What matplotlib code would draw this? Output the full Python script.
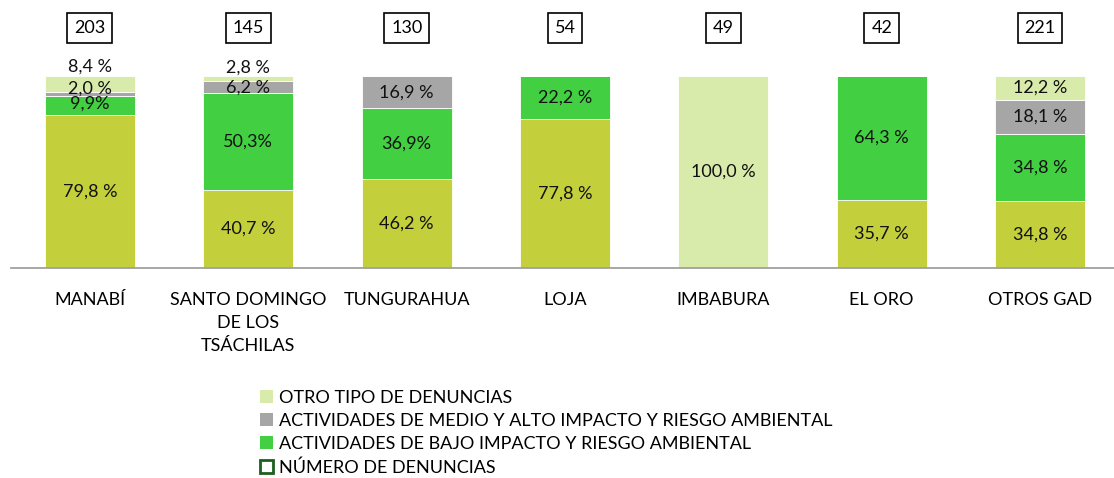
import matplotlib
matplotlib.use('Agg')
import matplotlib.pyplot as plt
import numpy as np
from matplotlib.patches import Patch

plt.rcParams['font.family'] = ['Lato', 'DejaVu Sans']

categorias = ['MANABÍ', 'SANTO DOMINGO\nDE LOS\nTSÁCHILAS', 'TUNGURAHUA', 'LOJA', 'IMBABURA', 'EL ORO', 'OTROS GAD']
num_denuncias = [203, 145, 130, 54, 49, 42, 221]

# segmentos de abajo hacia arriba (%)
base = [79.8, 40.7, 46.2, 77.8, 0, 35.7, 34.8]
bajo = [9.9, 50.3, 36.9, 22.2, 0, 64.3, 34.8]
medio = [2.0, 6.2, 16.9, 0, 0, 0, 18.1]
otro = [8.4, 2.8, 0, 0, 100.0, 0, 12.2]

lbl_base = ['79,8 %', '40,7 %', '46,2 %', '77,8 %', '', '35,7 %', '34,8 %']
lbl_bajo = ['9,9%', '50,3%', '36,9%', '22,2 %', '', '64,3 %', '34,8 %']
lbl_medio = ['2,0 %', '6,2 %', '16,9 %', '', '', '', '18,1 %']
lbl_otro = ['8,4 %', '2,8 %', '', '', '100,0 %', '', '12,2 %']

c_base = '#c3cf3b'
c_bajo = '#42d042'
c_medio = '#a6a6a6'
c_otro = '#d8ebaa'

fig = plt.figure(figsize=(11.14, 4.78), dpi=100)
ax = fig.add_axes([0.0097, 0.439, 0.995, 0.402])

x = np.arange(len(categorias))
w = 0.57
series = [(base, c_base, lbl_base), (bajo, c_bajo, lbl_bajo),
          (medio, c_medio, lbl_medio), (otro, c_otro, lbl_otro)]
bottom = np.zeros(len(x))
for vals, col, lbls in series:
    vals = np.array(vals)
    ax.bar(x, vals, w, bottom=bottom, color=col, edgecolor='white', linewidth=0.6)
    for i in range(len(x)):
        if lbls[i]:
            y = bottom[i] + vals[i] / 2
            ax.text(x[i], y, lbls[i], ha='center', va='center', fontsize=13, color='#111111')
    bottom = bottom + vals

# etiquetas pequeñas de Manabí y Santo Domingo desplazadas (se tapan)
for t in ax.texts:
    s = t.get_text()
    xx, yy = t.get_position()
    if xx == 0 and s == '8,4 %':
        t.set_position((xx, 104.7))
    elif xx == 0 and s == '2,0 %':
        t.set_position((xx, 93.6))
    elif xx == 0 and s == '9,9%':
        t.set_position((xx, 85.6))
    elif xx == 1 and s == '2,8 %':
        t.set_position((xx, 104.2))

for i in range(len(x)):
    ax.text(x[i], 125, str(num_denuncias[i]), ha='center', va='center', fontsize=13,
            bbox=dict(boxstyle='square,pad=0.38', fc='white', ec='black', lw=1.2))

ax.set_xlim(-0.5, len(x) - 0.5)
ax.set_ylim(0, 100)
ax.set_xticks(x)
ax.set_xticklabels(categorias, fontsize=13, linespacing=1.55)
ax.tick_params(axis='x', length=0, pad=17)
ax.set_yticks([])
for s in ['top', 'right', 'left']:
    ax.spines[s].set_visible(False)
ax.spines['bottom'].set_color('#a0a0a0')
ax.spines['bottom'].set_linewidth(1.3)

handles = [Patch(fc=c_otro, ec='none'), Patch(fc=c_medio, ec='none'), Patch(fc=c_bajo, ec='none'),
           Patch(fc='white', ec='#1e5e1e', lw=2)]
labels = ['OTRO TIPO DE DENUNCIAS', 'ACTIVIDADES DE MEDIO Y ALTO IMPACTO Y RIESGO AMBIENTAL',
          'ACTIVIDADES DE BAJO IMPACTO Y RIESGO AMBIENTAL', 'NÚMERO DE DENUNCIAS']
fig.legend(handles, labels, loc='upper left', bbox_to_anchor=(0.233, 0.185), frameon=False,
           fontsize=13, handlelength=0.75, handleheight=0.75, handletextpad=0.3, labelspacing=0.4,
           borderpad=0, borderaxespad=0)

fig.savefig('out.png', dpi=100)
